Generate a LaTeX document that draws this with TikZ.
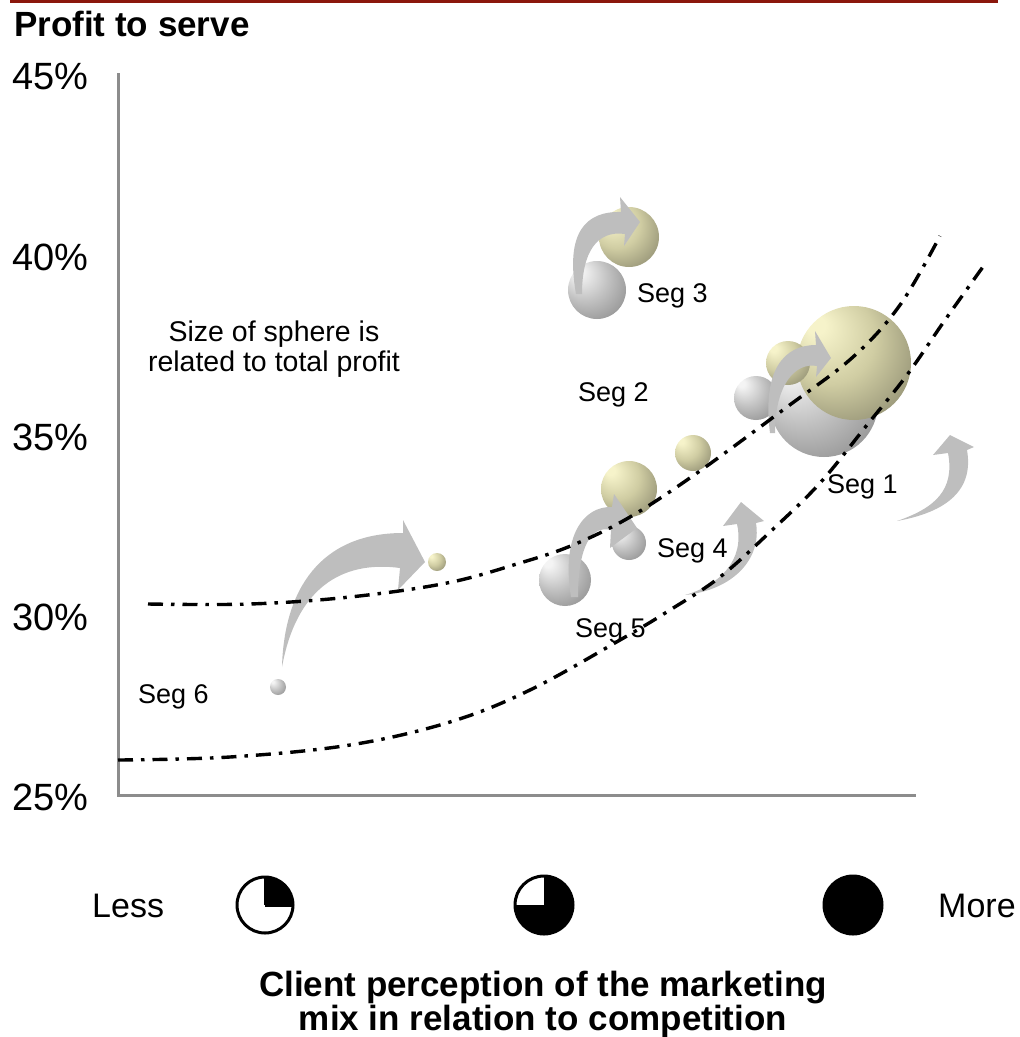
\documentclass[tikz,border=0pt]{standalone}
\usepackage{fontspec}
\setmainfont{Liberation Sans}
\definecolor{redline}{HTML}{8B170C}
\definecolor{axisgray}{HTML}{8C8C8C}
\definecolor{arrowgray}{HTML}{BEBEBE}
\definecolor{gsA}{HTML}{F4F4F4}
\definecolor{gsB}{HTML}{C2C2C2}
\definecolor{gsC}{HTML}{888888}
\definecolor{tsA}{HTML}{F6F3CA}
\definecolor{tsB}{HTML}{D0CDA3}
\definecolor{tsC}{HTML}{86846A}
\pgfdeclareradialshading{graysph}{\pgfpoint{-18bp}{18bp}}{color(0bp)=(gsA); color(4bp)=(gsA); color(20bp)=(gsB); color(40bp)=(gsC); color(50bp)=(gsC)}
\pgfdeclareradialshading{tansph}{\pgfpoint{-18bp}{18bp}}{color(0bp)=(tsA); color(4bp)=(tsA); color(20bp)=(tsB); color(40bp)=(tsC); color(50bp)=(tsC)}
\tikzset{
  sphg/.style={circle, inner sep=0pt, outer sep=0pt, minimum size=#1, shading=graysph},
  spht/.style={circle, inner sep=0pt, outer sep=0pt, minimum size=#1, shading=tansph},
  blockarrow/.style={fill=arrowgray},
  dashdotline/.style={line width=3.4pt, dash pattern=on 15pt off 8pt on 3.5pt off 8pt},
  ticklbl/.style={anchor=base west, inner sep=0pt, font=\fontsize{38}{40}\selectfont},
  seglbl/.style={anchor=base west, inner sep=0pt, font=\fontsize{27}{30}\selectfont},
  notelbl/.style={anchor=base, inner sep=0pt, font=\fontsize{28.5}{31}\selectfont},
  scalelbl/.style={anchor=base west, inner sep=0pt, font=\fontsize{34}{38}\selectfont},
  titlelbl/.style={anchor=base, inner sep=0pt, font=\bfseries\fontsize{35}{38}\selectfont},
  piecircle/.style={line width=3pt, draw=black}
}
\begin{document}
\begin{tikzpicture}[x=1pt,y=-1pt]
\useasboundingbox (0,0) rectangle (1020,1037);
% top rule
\fill[redline] (10,0) rectangle (998,3);
% axes
\draw[axisgray, line width=3pt] (118,73) -- (118,795) -- (916,795);
% title
\node[anchor=base west, inner sep=0pt, font=\bfseries\fontsize{35}{38}\selectfont] (ytitle) at (14,36) {Profit to serve};
% ticks
\node[ticklbl] (t45) at (12,89) {45\%};
\node[ticklbl] (t40) at (12,270) {40\%};
\node[ticklbl] (t35) at (12,450) {35\%};
\node[ticklbl] (t30) at (12,630) {30\%};
\node[ticklbl] (t25) at (12,810) {25\%};

% spheres
\node[sphg=16pt] (s6g) at (278,687) {};
\node[spht=18pt] (s6t) at (437,562) {};
\node[sphg=52pt] (s5g) at (565,580) {};
\node[sphg=34pt] (s4g) at (629,543) {};
\node[spht=56pt] (s4t) at (629,489) {};
\node[spht=36pt] (s2t) at (693,453) {};
\node[sphg=58pt] (s3g) at (597,290) {};
\node[spht=60pt] (s3t) at (629,237) {};
\node[sphg=44pt] (s1gs) at (756,398) {};
\node[sphg=108pt] (s1g) at (824,403) {};
\node[spht=114pt] (s1t) at (854,363) {};
\node[spht=44pt] (s1ts) at (788,363) {};

% block arrows
\fill[blockarrow] (282,667) .. controls (284,590) and (320,533) .. (403,533) -- (403,520) -- (425,562) -- (398,590) -- (400,568) .. controls (340,560) and (296,590) .. (282,667) -- cycle;
\fill[blockarrow] (571,597) .. controls (561,535) and (584,506) .. (612,507) -- (614,494) -- (637,528) -- (610,548) -- (611,530) .. controls (592,525) and (578,545) .. (578,597) -- cycle;
\fill[blockarrow] (576,294) .. controls (565,232) and (586,211) .. (621,212) -- (620,197) -- (640,222) -- (624,246) -- (625,234) .. controls (597,230) and (582,252) .. (582,294) -- cycle;
\fill[blockarrow] (770,433) .. controls (762,370) and (784,345) .. (816,345) -- (815,331) -- (831,358) -- (816,377) -- (817,366) .. controls (795,362) and (775,385) .. (775,433) -- cycle;
\fill[blockarrow] (685,595) .. controls (732,590) and (762,560) .. (756,523) -- (764,521) -- (741,502) -- (723,526) -- (737,524) .. controls (745,560) and (720,585) .. (685,595) -- cycle;
\fill[blockarrow] (897,521) .. controls (947,512) and (974,490) .. (967,450) -- (974,447) -- (950,435) -- (933,455) -- (948,453) .. controls (955,490) and (935,508) .. (897,521) -- cycle;

% dash-dot curves
\draw[dashdotline] plot[smooth, tension=0.6] coordinates {(148,604) (250,604) (350,597) (447,583) (520,563) (573,545) (630,517) (697,473) (787,407) (853,357) (900,305) (940,236)};
\draw[dashdotline] plot[smooth, tension=0.6] coordinates {(118,760) (230,757) (350,745) (450,722) (530,690) (620,640) (670,610) (720,577) (770,532) (820,483) (867,425) (907,375) (945,320) (985,264)};

% labels
\node[seglbl] (seg3) at (637,302) {Seg 3};
\node[seglbl] (seg2) at (578,401) {Seg 2};
\node[seglbl] (seg1) at (827,493) {Seg 1};
\node[seglbl] (seg4) at (657,557) {Seg 4};
\node[seglbl] (seg5) at (575,637) {Seg 5};
\node[seglbl] (seg6) at (138,703) {Seg 6};
\node[notelbl] (note1) at (274,341) {Size of sphere is};
\node[notelbl] (note2) at (274,371) {related to total profit};

% scale
\node[scalelbl] (less) at (92,917) {Less};
\node[scalelbl] (more) at (938,917) {More};
\fill (265,905) -- ++(0,-28) arc[start angle=-90, end angle=0, radius=28] -- cycle;
\draw[piecircle] (265,905) -- ++(0,-28);
\draw[piecircle] (265,905) -- ++(28,0);
\node[circle, piecircle, minimum size=56pt, inner sep=0pt] (pie1) at (265,905) {};
\fill (544,905) -- ++(0,-29) arc[start angle=-90, end angle=180, radius=29] -- cycle;
\node[circle, piecircle, minimum size=58pt, inner sep=0pt] (pie2) at (544,905) {};
\node[circle, piecircle, fill=black, minimum size=58pt, inner sep=0pt] (pie3) at (853,905) {};

% axis title
\node[titlelbl] (xt1) at (543,996) {Client perception of the marketing};
\node[titlelbl] (xt2) at (543,1030) {mix in relation to competition};
\end{tikzpicture}
\end{document}
